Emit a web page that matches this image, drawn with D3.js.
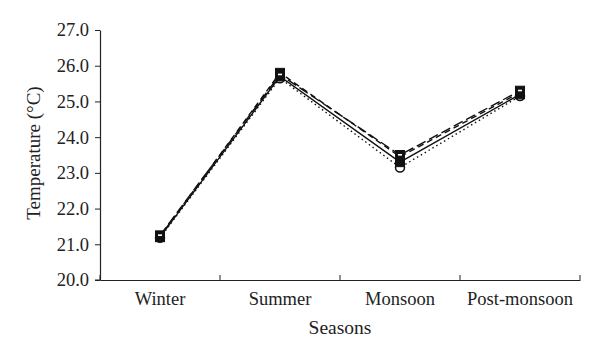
<!DOCTYPE html>
<html><head><meta charset="utf-8">
<script src="https://cdn.jsdelivr.net/npm/d3@7"></script>
<style>body{margin:0;background:#fff}svg text{font-family:"Liberation Serif","DejaVu Serif",serif;fill:#222}</style>
</head><body><svg id="c" width="600" height="362"></svg>
<script>
const categories = ["Winter","Summer","Monsoon","Post-monsoon"];
const seriesSolid = [21.20, 25.70, 23.30, 25.20];
const seriesDash = [21.22, 25.80, 23.45, 25.25];
const seriesLongDash = [21.25, 25.75, 23.50, 25.30];
const seriesDot = [21.18, 25.65, 23.15, 25.15];
const yTicks = [20,21,22,23,24,25,26,27];

const series = [
  {vals: seriesDot, dash: "1.5,3", marker: "circle"},
  {vals: seriesSolid, dash: null, marker: "square"},
  {vals: seriesDash, dash: "6,4", marker: "square"},
  {vals: seriesLongDash, dash: "10,4", marker: "square2"}
];

const svg = d3.select("#c");
const x = d3.scaleBand().domain(categories).range([100,580]);
const y = d3.scaleLinear().domain([20,27]).range([280,30]);
const FS = 18.5;

const ya = svg.append("g").attr("transform","translate(100,0)")
  .call(d3.axisLeft(y).tickValues(yTicks).tickFormat(d3.format(".1f")).tickSize(5).tickSizeOuter(0));
ya.select(".domain").attr("stroke","#222").attr("stroke-width",1.2);
ya.selectAll(".tick line").attr("stroke","#222");
ya.selectAll("text").attr("font-size",FS).attr("x",-11);

const xa = svg.append("g").attr("transform","translate(0,280)")
  .call(d3.axisBottom(x).tickSize(0).tickSizeOuter(0));
xa.select(".domain").attr("stroke","#222").attr("stroke-width",1.2);
xa.selectAll("text").attr("font-size",FS).attr("dy","0.71em").attr("y",12);
const bounds = [0,1,2,3,4].map(i => 100 + i*x.step());
svg.append("g").selectAll("line").data(bounds).join("line")
  .attr("x1",d=>d).attr("x2",d=>d).attr("y1",280).attr("y2",275).attr("stroke","#222");
svg.append("line").attr("x1",95).attr("x2",100).attr("y1",280).attr("y2",280).attr("stroke","#222");

svg.append("text").attr("x",340).attr("y",334).attr("text-anchor","middle").attr("font-size",19.5).text("Seasons");
svg.append("text").attr("transform","translate(40,153) rotate(-90)").attr("text-anchor","middle").attr("font-size",19).text("Temperature (°C)");

const cx = d => x(d) + x.bandwidth()/2;
const line = d3.line().x((d,i)=>cx(categories[i])).y(d=>y(d));
series.forEach(s => {
  svg.append("path").attr("d", line(s.vals)).attr("fill","none").attr("stroke","#111")
    .attr("stroke-width",1.4).attr("stroke-dasharray", s.dash);
});
series.forEach(s => {
  const g = svg.append("g");
  s.vals.forEach((v,i) => {
    const px = cx(categories[i]), py = y(v);
    if (s.marker === "square") {
      g.append("rect").attr("x",px-4.5).attr("y",py-4.5).attr("width",9).attr("height",9)
        .attr("fill","#111").attr("stroke","#111");
    } else if (s.marker === "circle") {
      g.append("circle").attr("cx",px).attr("cy",py).attr("r",4.5).attr("fill","#fff").attr("stroke","#111").attr("stroke-width",1.5);
    } else {
      g.append("rect").attr("x",px-4.5).attr("y",py-4.5).attr("width",9).attr("height",9)
        .attr("fill","#111").attr("stroke","#111").attr("stroke-width",1);
      g.append("rect").attr("x",px-2).attr("y",py-1).attr("width",4).attr("height",1.6).attr("fill","#fff");
    }
  });
});
</script></body></html>
